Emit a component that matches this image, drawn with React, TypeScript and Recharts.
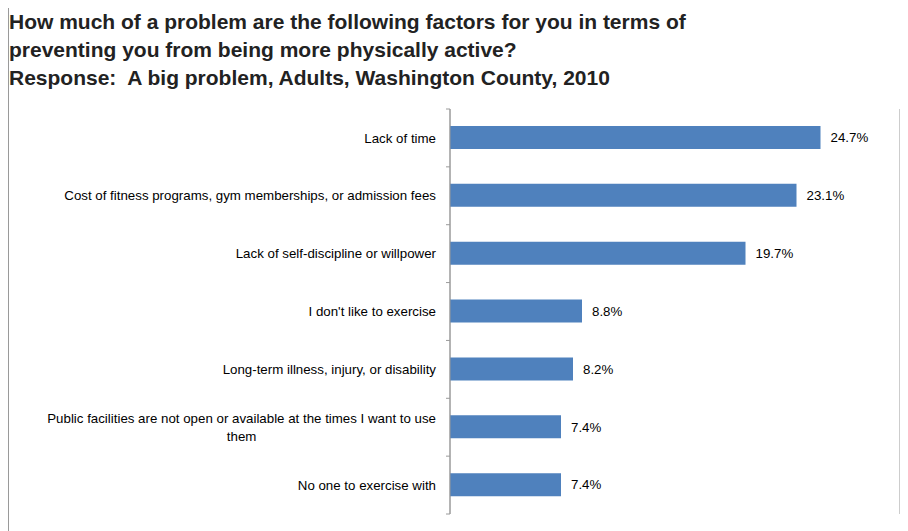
import React from "react";
import {
  BarChart,
  Bar,
  XAxis,
  YAxis,
  CartesianGrid,
  LabelList,
} from "recharts";

const factors = [
  "Lack of time",
  "Cost of fitness programs, gym memberships, or admission fees",
  "Lack of self-discipline or willpower",
  "I don't like to exercise",
  "Long-term illness, injury, or disability",
  "Public facilities are not open or available at the times I want to use them",
  "No one to exercise with",
];

const bigProblemPct = [24.7, 23.1, 19.7, 8.8, 8.2, 7.4, 7.4];

const pctTicks = [0, 5, 10, 15, 20, 25, 30];

const data = factors.map((name, i) => ({ name, value: bigProblemPct[i] }));

const LABEL_FONT = '"Liberation Sans", Arial, sans-serif';
const LABEL_SIZE = 13.3;
const AXIS_X = 442;
const GRAY = "#9a9a9a";

let ctx: CanvasRenderingContext2D | null = null;
const measure = (s: string) => {
  if (!ctx) {
    ctx = document.createElement("canvas").getContext("2d");
  }
  if (!ctx) return s.length * 6;
  ctx.font = `${LABEL_SIZE}px ${LABEL_FONT}`;
  return ctx.measureText(s).width;
};

const wrap = (s: string, max = 70) => {
  if (s.length <= max) return [s];
  const cut = s.lastIndexOf(" ", max);
  return [s.slice(0, cut), s.slice(cut + 1)];
};

const FactorTick = (props: any) => {
  const { payload, index } = props;
  const y = payload.coordinate;
  const half = payload.offset || 28.9;
  const lines = wrap(String(payload.value));
  const right = AXIS_X - 14;
  const textProps = { fontSize: LABEL_SIZE, fontFamily: LABEL_FONT, fill: "#000" };
  return (
    <g>
      <line x1={AXIS_X - 4} x2={AXIS_X} y1={y - half} y2={y - half} stroke={GRAY} />
      {index === factors.length - 1 && (
        <line x1={AXIS_X - 4} x2={AXIS_X} y1={y + half} y2={y + half} stroke={GRAY} />
      )}
      {lines.length === 1 ? (
        <text x={right} y={y} dy="0.35em" textAnchor="end" {...textProps}>
          {lines[0]}
        </text>
      ) : (
        <>
          <text x={right} y={y - 9} dy="0.35em" textAnchor="end" {...textProps}>
            {lines[0]}
          </text>
          <text
            x={right - measure(lines[0]) / 2}
            y={y + 9}
            dy="0.35em"
            textAnchor="middle"
            {...textProps}
          >
            {lines[1]}
          </text>
        </>
      )}
    </g>
  );
};

export default function App() {
  return (
    <div style={{ position: "relative", width: 900, height: 530, marginTop: -7 }}>
      <div
        style={{
          position: "absolute",
          left: 0,
          top: 0,
          width: 920,
          height: 540,
          borderTop: `1px solid ${GRAY}`,
          borderLeft: `1px solid ${GRAY}`,
        }}
      />
      <div
        style={{
          position: "absolute",
          left: 1,
          top: 7,
          fontFamily: LABEL_FONT,
          fontWeight: "bold",
          fontSize: 21,
          lineHeight: "28px",
          color: "#222",
          whiteSpace: "nowrap",
        }}
      >
        How much of a problem are the following factors for you in terms of
        <br />
        preventing you from being more physically active?
        <br />
        Response:&nbsp; A big problem, Adults, Washington County, 2010
      </div>
      <div style={{ position: "absolute", left: 0, top: 0 }}>
        <BarChart
          width={900}
          height={530}
          data={data}
          layout="vertical"
          barSize={23}
          margin={{ top: 108, right: 8, left: 0, bottom: 17 }}
        >
          <CartesianGrid horizontal={false} stroke={GRAY} />
          <XAxis
            type="number"
            domain={[0, 30]}
            ticks={pctTicks}
            tick={false}
            axisLine={false}
            tickLine={false}
            height={0}
          />
          <YAxis
            type="category"
            dataKey="name"
            width={442}
            axisLine={{ stroke: GRAY }}
            tickLine={false}
            tick={<FactorTick />}
            interval={0}
          />
          <Bar dataKey="value" fill="#4F81BD" isAnimationActive={false}>
            <LabelList
              dataKey="value"
              position="right"
              offset={10}
              formatter={(v: any) => `${v}%`}
              fontSize={LABEL_SIZE}
              fontFamily={LABEL_FONT}
              fill="#000"
            />
          </Bar>
        </BarChart>
      </div>
    </div>
  );
}
